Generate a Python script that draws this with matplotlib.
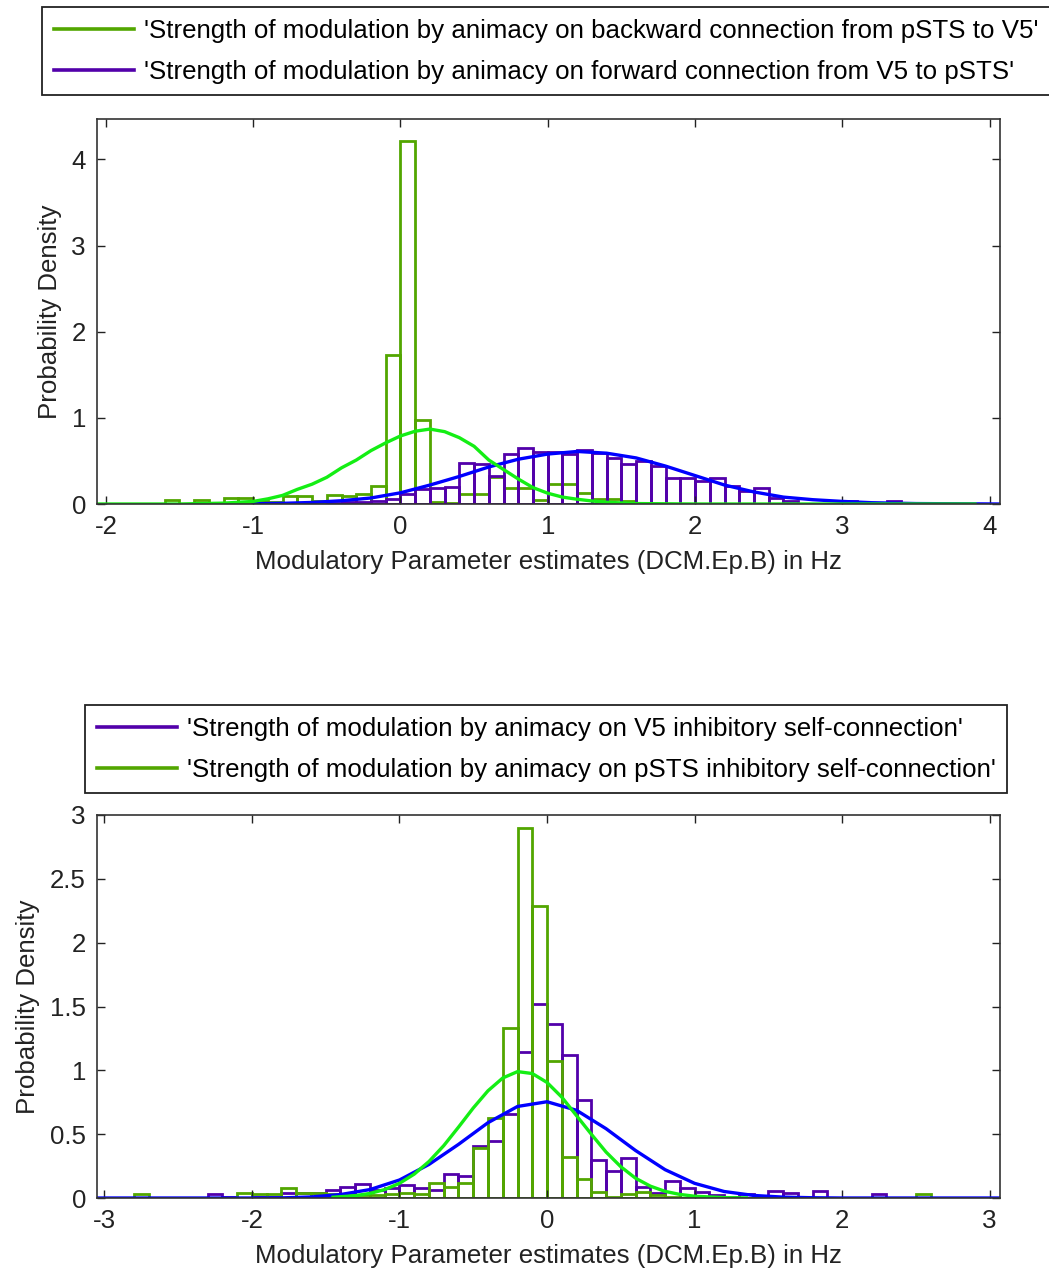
import numpy as np
import matplotlib
matplotlib.use('Agg')
import matplotlib.pyplot as plt

plt.rcParams['font.family'] = ['Liberation Sans', 'DejaVu Sans']
plt.rcParams['axes.unicode_minus'] = False

GREEN_BAR = '#52a600'
PURPLE_BAR = '#5200aa'
BLUE_FIT = '#0000ff'
GREEN_FIT = '#14ee14'

# ---- top panel: backward (pSTS->V5) vs forward (V5->pSTS) modulation ----
bin_w = 0.1
top_bw_start = -1.6
top_bw_dens = [0.05, 0.0, 0.05, 0.0, 0.07, 0.07, 0.03, 0.02, 0.09, 0.09,
               0.03, 0.11, 0.09, 0.12, 0.21, 1.73, 4.22, 0.98, 0.02, 0.01,
               0.12, 0.12, 0.31, 0.18, 0.18, 0.05, 0.23, 0.23, 0.13, 0.06,
               0.06, 0.03]
top_fw_start = -0.5
top_fw_dens = [0.01, 0.02, 0.02, 0.03, 0.06, 0.12, 0.17, 0.19, 0.20, 0.48,
               0.46, 0.33, 0.58, 0.65, 0.60, 0.60, 0.58, 0.63, 0.59, 0.53,
               0.46, 0.50, 0.44, 0.30, 0.30, 0.27, 0.30, 0.21, 0.15, 0.19,
               0.07, 0.03, 0.0, 0.0, 0.0, 0.03, 0.0, 0.0, 0.03]

top_bw_fit_x = [-2.06, -1.5, -1.2, -1.0, -0.9, -0.8, -0.7, -0.6, -0.5, -0.4,
                -0.3, -0.2, -0.1, 0.0, 0.1, 0.2, 0.3, 0.4, 0.5, 0.6, 0.7,
                0.8, 0.9, 1.0, 1.1, 1.2, 1.3, 1.4, 1.6, 2.0, 3.9]
top_bw_fit_y = [0.0, 0.0, 0.01, 0.03, 0.06, 0.10, 0.17, 0.23, 0.31, 0.42,
                0.51, 0.62, 0.71, 0.79, 0.845, 0.87, 0.84, 0.77, 0.67, 0.51,
                0.40, 0.29, 0.19, 0.125, 0.08, 0.055, 0.035, 0.02, 0.005,
                0.0, 0.0]
top_fw_fit_x = [-1.0, -0.8, -0.6, -0.4, -0.2, 0.0, 0.2, 0.4, 0.6, 0.8, 1.0,
                1.2, 1.4, 1.6, 1.8, 2.0, 2.2, 2.4, 2.6, 2.8, 3.0, 3.2, 3.5,
                4.07]
top_fw_fit_y = [0.003, 0.008, 0.018, 0.038, 0.07, 0.13, 0.22, 0.32, 0.43,
                0.52, 0.58, 0.61, 0.59, 0.535, 0.44, 0.33, 0.22, 0.14, 0.08,
                0.05, 0.03, 0.015, 0.005, 0.0]

# ---- bottom panel: inhibitory self-connections ----
bot_start = -2.8
bot_v5_dens = [0.0, 0.0, 0.0, 0.0, 0.0, 0.03, 0.01, 0.0, 0.01, 0.01,
               0.04, 0.04, 0.04, 0.06, 0.09, 0.11, 0.06, 0.08, 0.10, 0.08,
               0.06, 0.19, 0.17, 0.41, 0.45, 0.66, 1.14, 1.52, 1.36, 1.12,
               0.77, 0.30, 0.21, 0.31, 0.09, 0.04, 0.13, 0.08, 0.05, 0.02,
               0.01, 0.03, 0.0, 0.055, 0.04, 0.0, 0.055, 0.0, 0.0, 0.0,
               0.03, 0.0, 0.0, 0.0]
bot_psts_dens = [0.03, 0.0, 0.0, 0.0, 0.0, 0.0, 0.0, 0.04, 0.03, 0.03,
                 0.08, 0.04, 0.04, 0.03, 0.02, 0.02, 0.02, 0.03, 0.04, 0.03,
                 0.115, 0.09, 0.115, 0.39, 0.63, 1.33, 2.90, 2.29, 1.07, 0.32,
                 0.15, 0.05, 0.01, 0.03, 0.05, 0.02, 0.01, 0.0, 0.0, 0.0,
                 0.0, 0.0, 0.0, 0.0, 0.0, 0.0, 0.0, 0.0, 0.0, 0.0,
                 0.0, 0.0, 0.0, 0.03]

bot_v5_fit_x = [-3.05, -2.0, -1.8, -1.6, -1.4, -1.2, -1.0, -0.8, -0.6, -0.4,
                -0.2, 0.0, 0.2, 0.4, 0.6, 0.8, 1.0, 1.2, 1.4, 1.6, 1.8, 2.0,
                3.07]
bot_v5_fit_y = [0.0, 0.0, 0.001, 0.008, 0.027, 0.066, 0.141, 0.263, 0.42,
                0.59, 0.717, 0.754, 0.687, 0.543, 0.372, 0.222, 0.115, 0.051,
                0.02, 0.007, 0.002, 0.0, 0.0]
bot_psts_fit_x = [-1.45, -1.3, -1.2, -1.1, -1.0, -0.9, -0.8, -0.7, -0.6, -0.5,
                  -0.4, -0.3, -0.2, -0.1, 0.0, 0.1, 0.2, 0.3, 0.4, 0.5, 0.6,
                  0.7, 0.8, 0.9, 1.0, 1.2, 1.35]
bot_psts_fit_y = [0.006, 0.018, 0.036, 0.066, 0.115, 0.187, 0.286, 0.41,
                  0.555, 0.705, 0.84, 0.94, 0.99, 0.975, 0.905, 0.79, 0.645,
                  0.50, 0.36, 0.245, 0.155, 0.093, 0.052, 0.028, 0.014,
                  0.003, 0.001]

top_labels = ["'Strength of modulation by animacy on backward connection from pSTS to V5'",
              "'Strength of modulation by animacy on forward connection from V5 to pSTS'"]
bot_labels = ["'Strength of modulation by animacy on V5 inhibitory self-connection'",
              "'Strength of modulation by animacy on pSTS inhibitory self-connection'"]

FS = 18.6
W, H = 1049, 1272
fig = plt.figure(figsize=(W / 100, H / 100), dpi=100)


def edges(start, dens):
    return start + bin_w * np.arange(len(dens) + 1)


def hist_outline(ax, start, dens, color):
    e = edges(start, dens)
    ax.bar(e[:-1], dens, width=bin_w, align='edge', fill=False,
           edgecolor=color, linewidth=2.0)


def style_axes(ax, xlim, ylim, xticks, yticks, yticklabels):
    ax.set_xlim(*xlim)
    ax.set_ylim(*ylim)
    ax.set_xticks(xticks)
    ax.set_yticks(yticks)
    ax.set_yticklabels(yticklabels)
    ax.tick_params(direction='in', length=6, width=1.0, top=True, right=True,
                   labelsize=FS, pad=8, colors='#222222')
    for s in ax.spines.values():
        s.set_color('#333333')
        s.set_linewidth(1.2)
    ax.set_xlabel('Modulatory Parameter estimates (DCM.Ep.B) in Hz', fontsize=FS,
                  color='#222222', labelpad=8)
    ax.set_ylabel('Probability Density', fontsize=FS, color='#222222', labelpad=7)


def add_legend(ax, handles, labels, x0, y0):
    leg = ax.legend(handles, labels, loc='upper left',
                    bbox_to_anchor=(x0 / W, 1 - y0 / H),
                    bbox_transform=fig.transFigure, borderaxespad=0,
                    fontsize=FS, handlelength=3.1, handletextpad=0.38,
                    labelspacing=0.66, borderpad=0.45, fancybox=False,
                    framealpha=1, edgecolor='#222222')
    leg.get_frame().set_linewidth(1.3)
    return leg


# top axes
ax1 = fig.add_axes([97 / W, 1 - 504 / H, 903 / W, 385 / H])
hist_outline(ax1, top_bw_start, top_bw_dens, GREEN_BAR)
hist_outline(ax1, top_fw_start, top_fw_dens, PURPLE_BAR)
ax1.plot(top_fw_fit_x, top_fw_fit_y, color=BLUE_FIT, lw=2.4)
ax1.plot(top_bw_fit_x, top_bw_fit_y, color=GREEN_FIT, lw=2.4)
style_axes(ax1, (-2.06, 4.07), (0, 4.47), range(-2, 5), range(0, 5),
           [str(v) for v in range(0, 5)])
h1 = [plt.Line2D([], [], color=GREEN_BAR, lw=2.6),
      plt.Line2D([], [], color=PURPLE_BAR, lw=2.6)]
add_legend(ax1, h1, top_labels, 42, 7)

# bottom axes
ax2 = fig.add_axes([97 / W, 1 - 1198 / H, 903 / W, 383 / H])
hist_outline(ax2, bot_start, bot_v5_dens, PURPLE_BAR)
hist_outline(ax2, bot_start, bot_psts_dens, GREEN_BAR)
ax2.plot(bot_v5_fit_x, bot_v5_fit_y, color=BLUE_FIT, lw=2.4)
ax2.plot(bot_psts_fit_x, bot_psts_fit_y, color=GREEN_FIT, lw=2.4)
yt = [0, 0.5, 1, 1.5, 2, 2.5, 3]
style_axes(ax2, (-3.05, 3.07), (0, 3), range(-3, 4), yt,
           ['0', '0.5', '1', '1.5', '2', '2.5', '3'])
h2 = [plt.Line2D([], [], color=PURPLE_BAR, lw=2.6),
      plt.Line2D([], [], color=GREEN_BAR, lw=2.6)]
add_legend(ax2, h2, bot_labels, 85, 705)

fig.savefig('out.png', dpi=100)
